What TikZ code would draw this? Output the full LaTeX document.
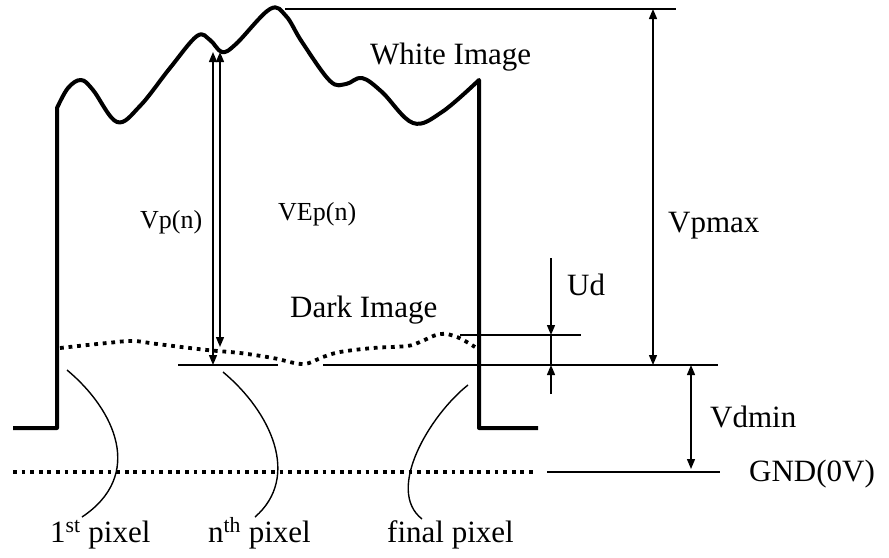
\documentclass[tikz,border=0pt]{standalone}
\usepackage{fontspec}
\setmainfont{Liberation Serif}
\usepackage{tikz}
\usetikzlibrary{arrows.meta, calc}

\begin{document}
\begin{tikzpicture}[
    x=1pt, y=-1pt,
    >={Triangle[length=10pt, width=8pt]},
    signal/.style={line width=4pt, line join=round},
    dotline/.style={line width=3.8pt, dash pattern=on 3.8pt off 4.8pt},
    refline/.style={line width=1.4pt},
    dim/.style={line width=1.4pt, <->},
    callout/.style={line width=1.4pt},
    lbl/.style={font=\fontsize{31}{36}\selectfont, inner sep=0pt,
                anchor=base west},
    slbl/.style={font=\fontsize{26}{30}\selectfont, inner sep=0pt,
                 anchor=base west},
]
\useasboundingbox (0,0) rectangle (889,557);

% ═══════════════════════════════════════════════════════════════════════════
%  Signal: white image and dark image
% ═══════════════════════════════════════════════════════════════════════════
\draw[signal] (13,428) -- (57,428) -- (57,108)
    -- plot[smooth, tension=0.6] coordinates {
        (57,108) (68,88) (81,80) (93,90) (117,122) (140,106) (170,68)
        (197,36) (210,40) (222,52) (236,44) (270,9) (286,16) (302,42)
        (330,81) (346,84) (362,78) (382,92) (413,123) (442,112) (479,80)}
    -- (479,428) -- (538,428);

% Dark image (dotted)
\draw[dotline] plot[smooth, tension=0.6] coordinates {
    (60,348) (107,343) (133,341) (157,344) (207,350) (240,353) (273,358)
    (303,364) (323,357) (340,352) (373,348) (407,346) (420,342) (440,334)
    (457,337) (475,347)};

% GND level (dotted part)
\draw[dotline] (13,472) -- (535,472);

% ═══════════════════════════════════════════════════════════════════════════
%  Reference levels
% ═══════════════════════════════════════════════════════════════════════════
\coordinate (topL) at (285,9);
\coordinate (topR) at (676,9);
\coordinate (dkA) at (178,365);
\coordinate (dkB) at (278,365);
\coordinate (dkC) at (323,365);
\coordinate (dkR) at (718,365);
\coordinate (udL) at (460,335);
\coordinate (udR) at (581,335);
\coordinate (gndL) at (547,472);
\coordinate (gndR) at (720,472);

\draw[refline] (topL) -- (topR);
\draw[refline] (dkA) -- (dkB);
\draw[refline] (dkC) -- (dkR);
\draw[refline] (udL) -- (udR);
\draw[refline] (gndL) -- (gndR);

% ═══════════════════════════════════════════════════════════════════════════
%  Dimension arrows
% ═══════════════════════════════════════════════════════════════════════════
% Vp(n) and VEp(n)
\coordinate (vpT) at (213,52);
\coordinate (vpB) at (213,365);
\coordinate (vepT) at (220,52);
\coordinate (vepB) at (220,347);
\draw[dim] (vpT) -- (vpB);
\draw[dim] (vepT) -- (vepB);

% Vpmax
\coordinate (vmaxT) at (653,9);
\coordinate (vmaxB) at (653,365);
\draw[dim] (vmaxT) -- (vmaxB);

% Ud
\coordinate (udTop) at (551,258);
\coordinate (udHi) at (551,335);
\coordinate (udLo) at (551,365);
\coordinate (udBot) at (551,394);
\draw[refline, ->] (udTop) -- (udHi);
\draw[refline, ->] (udBot) -- (udLo);
\draw[refline] (udHi) -- (udLo);

% Vdmin
\coordinate (vdT) at (691,365);
\coordinate (vdB) at (691,469);
\draw[dim] (vdT) -- (vdB);

% ═══════════════════════════════════════════════════════════════════════════
%  Labels
% ═══════════════════════════════════════════════════════════════════════════
\node[lbl] (white) at (370,64) {White Image};
\node[lbl] (dark) at (290,317) {Dark Image};
\node[slbl] (vp) at (140,228) {Vp(n)};
\node[slbl] (vep) at (278,220) {VEp(n)};
\node[lbl] (vpmax) at (668,232) {Vpmax};
\node[lbl] (ud) at (567,295) {Ud};
\node[lbl] (vdmin) at (710,427) {Vdmin};
\node[lbl] (gnd) at (749,481) {GND(0V)};
\node[lbl] (first) at (50,542) {1\textsuperscript{st} pixel};
\node[lbl] (nth) at (208,542) {n\textsuperscript{th} pixel};
\node[lbl] (final) at (387,542) {final pixel};

% Pixel callouts
\coordinate (px1) at (67,370);
\coordinate (pxn) at (223,372);
\coordinate (pxf) at (468,385);
\coordinate (e1) at (82,517);
\coordinate (en) at (255,517);
\coordinate (ef) at (422,519);
\draw[callout] (px1) .. controls (115,410) and (145,475) .. (e1);
\draw[callout] (pxn) .. controls (271,412) and (301,477) .. (en);
\draw[callout] (pxf) .. controls (430,415) and (385,490) .. (ef);

\end{tikzpicture}
\end{document}
